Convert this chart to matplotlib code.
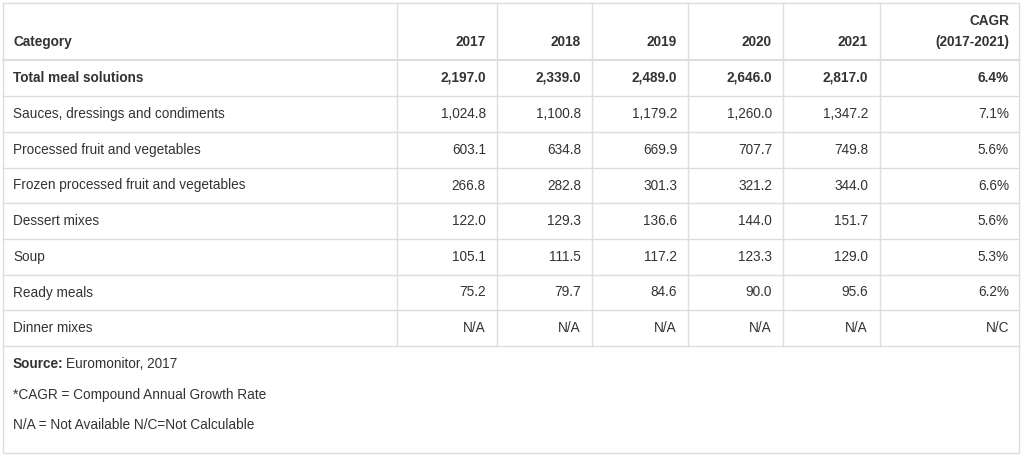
import matplotlib
matplotlib.use("Agg")
import matplotlib.pyplot as plt
plt.rcParams['font.family'] = 'Liberation Sans'

years = ["2017", "2018", "2019", "2020", "2021"]
categories = ["Total meal solutions", "Sauces, dressings and condiments", "Processed fruit and vegetables",
              "Frozen processed fruit and vegetables", "Dessert mixes", "Soup", "Ready meals", "Dinner mixes"]
values = [
    ["2,197.0", "2,339.0", "2,489.0", "2,646.0", "2,817.0"],
    ["1,024.8", "1,100.8", "1,179.2", "1,260.0", "1,347.2"],
    ["603.1", "634.8", "669.9", "707.7", "749.8"],
    ["266.8", "282.8", "301.3", "321.2", "344.0"],
    ["122.0", "129.3", "136.6", "144.0", "151.7"],
    ["105.1", "111.5", "117.2", "123.3", "129.0"],
    ["75.2", "79.7", "84.6", "90.0", "95.6"],
    ["N/A", "N/A", "N/A", "N/A", "N/A"],
]
cagr = ["6.4%", "7.1%", "5.6%", "6.6%", "5.6%", "5.3%", "6.2%", "N/C"]

W, H = 1024, 458
fig = plt.figure(figsize=(W/100, H/100), dpi=100)
ax = fig.add_axes([0, 0, 1, 1])
ax.set_xlim(0, W); ax.set_ylim(H, 0); ax.axis('off')
lc = '#dddddd'; tc = '#333333'; fs = 9.8

L, R, T, B = 3, 1019, 3, 453
ax.plot([L, R, R, L, L], [T, T, B, B, T], color=lc, lw=1)
row_lines = [60, 96, 132, 168, 203, 239, 275, 310, 346]
for y in row_lines:
    ax.plot([L, R], [y, y], color=lc, lw=1.5 if y == 60 else 1)
col_lines = [397, 497, 592, 688, 783, 880]
for x in col_lines:
    ax.plot([x, x], [T, 346], color=lc, lw=1)
text_x = [486, 581, 677, 772, 868]

ax.text(13, 42, "Category", fontsize=fs, weight='bold', color=tc, va='center')
for x, yr in zip(text_x, years):
    ax.text(x, 42, yr, fontsize=fs, weight='bold', color=tc, va='center', ha='right')
ax.text(1009, 21, "CAGR", fontsize=fs, weight='bold', color=tc, va='center', ha='right')
ax.text(1009, 42, "(2017-2021)", fontsize=fs, weight='bold', color=tc, va='center', ha='right')

for i, cat in enumerate(categories):
    y = (row_lines[i] + row_lines[i+1]) / 2
    w = 'bold' if i == 0 else 'normal'
    ax.text(13, y, cat, fontsize=fs, weight=w, color=tc, va='center')
    for x, v in zip(text_x, values[i]):
        ax.text(x, y, v, fontsize=fs, weight=w, color=tc, va='center', ha='right')
    ax.text(1009, y, cagr[i], fontsize=fs, weight=w, color=tc, va='center', ha='right')

ax.text(13, 364, "Source:", fontsize=fs, weight='bold', color=tc, va='center')
ax.text(66, 364, "Euromonitor, 2017", fontsize=fs, color=tc, va='center')
ax.text(13, 395, "*CAGR = Compound Annual Growth Rate", fontsize=fs, color=tc, va='center')
ax.text(13, 425, "N/A = Not Available N/C=Not Calculable", fontsize=fs, color=tc, va='center')

fig.savefig("out.png", dpi=100, facecolor='white')
